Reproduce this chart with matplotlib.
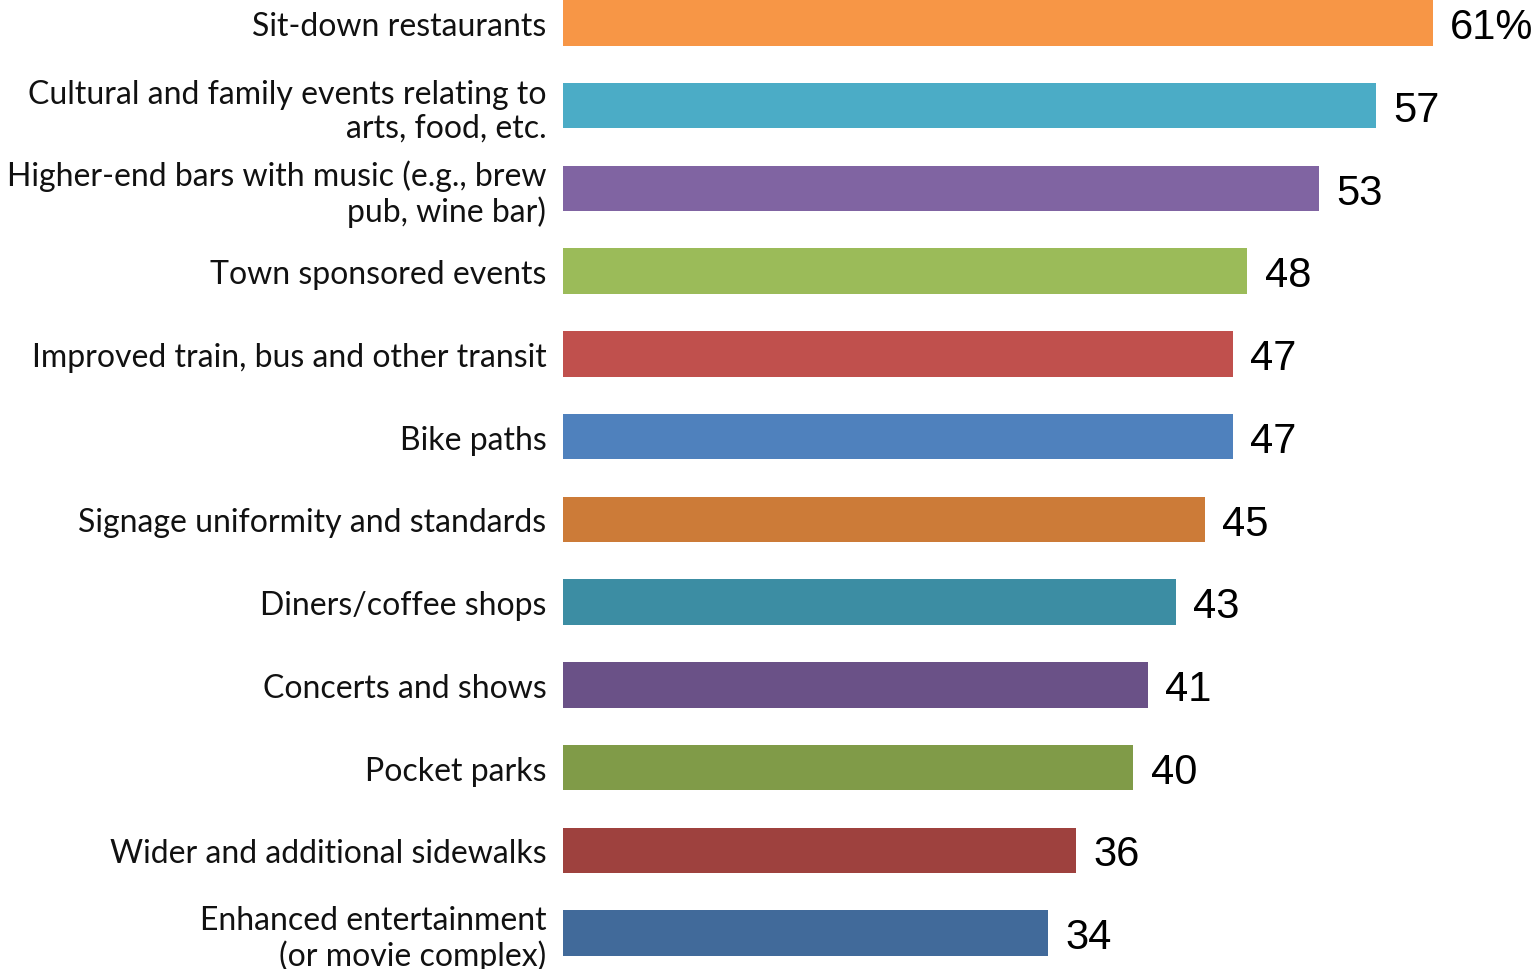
import matplotlib
matplotlib.use("Agg")
import matplotlib.pyplot as plt

categories = [
    "Sit-down restaurants",
    "Cultural and family events relating to\narts, food, etc.",
    "Higher-end bars with music (e.g., brew\npub, wine bar)",
    "Town sponsored events",
    "Improved train, bus and other transit",
    "Bike paths",
    "Signage uniformity and standards",
    "Diners/coffee shops",
    "Concerts and shows",
    "Pocket parks",
    "Wider and additional sidewalks",
    "Enhanced entertainment\n(or movie complex)",
]
values = [61, 57, 53, 48, 47, 47, 45, 43, 41, 40, 36, 34]
colors = ["#F79646", "#4BACC6", "#8064A2", "#9BBB59", "#C0504D", "#4F81BD",
          "#CC7B38", "#3C8DA3", "#6A5187", "#809B48", "#9E413E", "#416A9A"]

W, H = 1537, 970
fig = plt.figure(figsize=(W / 100, H / 100), dpi=100)
ax = fig.add_axes([563 / W, 0, (W - 563) / W, 1])

y = list(range(len(values)))
ax.barh(y, values, height=0.55, color=colors)

ax.set_xlim(0, (W - 563) / 14.26)
spacing = (934 - 24) / 11
ax.set_ylim((H - 24) / spacing, -24 / spacing)

ax.set_yticks(y)
ax.set_yticklabels(categories, fontfamily="Lato", fontsize=23, color="#111111",
                   multialignment="right", linespacing=1.15)
ax.tick_params(axis="y", length=0, pad=12)
ax.set_xticks([])
for s in ax.spines.values():
    s.set_visible(False)

for i, v in enumerate(values):
    txt = f"{v}%" if i == 0 else f"{v}"
    ax.text(v + 1.2, i + 0.05, txt, va="center", ha="left",
            fontfamily="Liberation Sans", fontsize=30, color="#000000")

fig.savefig("out.png", dpi=100)
